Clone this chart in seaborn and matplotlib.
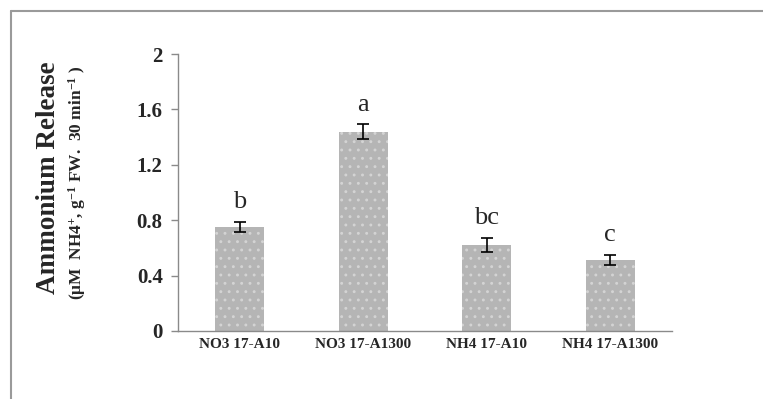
import matplotlib
matplotlib.use("Agg")
import matplotlib.pyplot as plt
import seaborn as sns
import pandas as pd
from matplotlib.lines import Line2D

categories = ["NO3 17-A10", "NO3 17-A1300", "NH4 17-A10", "NH4 17-A1300"]
values = [0.75, 1.44, 0.62, 0.513]
errors = [0.036, 0.052, 0.052, 0.036]
letters = ["b", "a", "bc", "c"]
yticks = [0, 0.4, 0.8, 1.2, 1.6, 2]
ytick_labels = ["0", "0.4", "0.8", "1.2", "1.6", "2"]

sns.set_style("white")
plt.rcParams["font.family"] = ["Liberation Serif", "DejaVu Serif"]
plt.rcParams["mathtext.fontset"] = "custom"
plt.rcParams["mathtext.rm"] = "Liberation Serif:bold"
plt.rcParams["mathtext.it"] = "Liberation Serif:bold"
plt.rcParams["mathtext.bf"] = "Liberation Serif:bold"
plt.rcParams["hatch.linewidth"] = 0.9

df = pd.DataFrame({"cat": categories, "val": values})

fig = plt.figure(figsize=(7.63, 3.99), dpi=100)
ax = fig.add_axes([178 / 763, 1 - 331 / 399, (672 - 178) / 763, (331 - 54) / 399])

sns.barplot(data=df, x="cat", y="val", ax=ax, color="#b5b5b5", width=0.4,
            errorbar=None, saturation=1)
for p in ax.patches:
    p.set_hatch("..")
    p.set_edgecolor("#d4d4d4")
    p.set_linewidth(0)

xs = list(range(len(categories)))
ax.errorbar(xs, values, yerr=errors, fmt="none", ecolor="black",
            elinewidth=1.2, capsize=4, capthick=1.2)
for x, v, e, t in zip(xs, values, errors, letters):
    ax.text(x, v + e + 0.10, t, ha="center", va="baseline", fontsize=19,
            family="Liberation Serif")

ax.set_xlim(-0.5, 3.5)
ax.set_ylim(0, 2)
ax.set_yticks(yticks)
ax.set_yticklabels(ytick_labels, fontsize=15, fontweight="bold")
ax.set_xticks(xs)
ax.set_xticklabels(categories, fontsize=11, fontweight="bold")
ax.set_xticks([-0.5, 0.5, 1.5, 2.5, 3.5], minor=True)
ax.tick_params(axis="x", which="major", length=0, pad=5)
ax.tick_params(axis="x", which="minor", length=5, color="#8a8a8a", width=1)
ax.tick_params(axis="y", which="major", length=5, color="#8a8a8a", width=1, pad=6, left=True)
ax.set_xlabel("")
ax.set_ylabel("")
for s in ["top", "right"]:
    ax.spines[s].set_visible(False)
for s in ["left", "bottom"]:
    ax.spines[s].set_color("#8a8a8a")
    ax.spines[s].set_linewidth(1)

fig.text(49 / 763, 1 - 178 / 399, "Ammonium Release", rotation=90, ha="center",
         va="center", fontsize=19.5, fontweight="bold")
fig.text(77 / 763, 1 - 183 / 399,
         r"($\mu$M  NH4$^{+}$, g$^{-1}$ FW.  30 min$^{-1}$ )", rotation=90,
         ha="center", va="center", fontsize=12.5, fontweight="bold")

fig.add_artist(Line2D([11 / 763, 11 / 763], [0, 1 - 11 / 399], transform=fig.transFigure,
                      color="#9a9a9a", linewidth=1.5))
fig.add_artist(Line2D([11 / 763, 1], [1 - 11 / 399, 1 - 11 / 399], transform=fig.transFigure,
                      color="#9a9a9a", linewidth=1.5))

fig.savefig("out.png", dpi=100)
